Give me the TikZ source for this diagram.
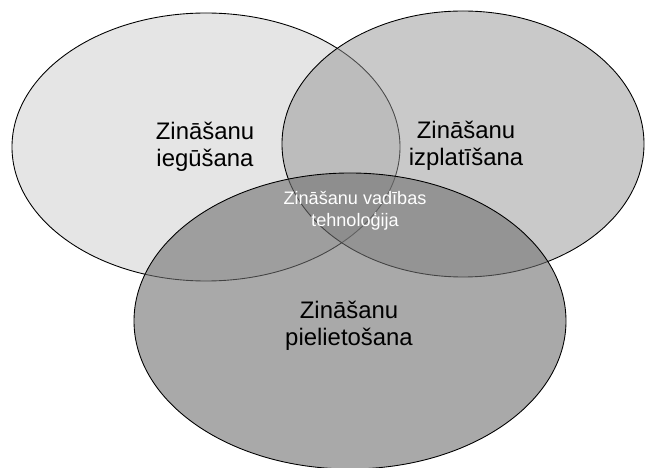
\documentclass[tikz,border=0pt]{standalone}
\usepackage{fontspec}
\setmainfont{Liberation Sans}
\usetikzlibrary{positioning,shapes.geometric}
\definecolor{setlight}{gray}{0.90}
\definecolor{setmid}{gray}{0.58}
\definecolor{setdark}{gray}{0.44}
\tikzset{
  set/.style={ellipse,draw=black,line width=0.5pt,inner sep=0pt},
  setA/.style={set,fill=setlight,minimum width=77.6mm,minimum height=53.6mm},
  setB/.style={set,fill=setmid,fill opacity=0.5,minimum width=72.4mm,minimum height=53.2mm},
  setC/.style={set,fill=setdark,fill opacity=0.6,minimum width=86.4mm,minimum height=59.2mm},
  lbl/.style={align=center,text=black,font=\fontsize{13.6}{15.4}\selectfont,inner sep=0pt},
  core/.style={align=center,text=white,font=\fontsize{10.3}{12.5}\selectfont,inner sep=0pt},
}

\begin{document}
\begin{tikzpicture}
\useasboundingbox (0,0) rectangle (12.9,-9.36);

% ------------------------------------------------ sets
\node[setA] (acq) at (4.12,-2.94) {};
\node[setB] (dis) at (9.26,-2.88) {};
\node[setC] (app) at (7.00,-6.42) {};

% ------------------------------------------------ labels
\node[lbl] (acqL) at (4.10,-2.94) {Zināšanu\\iegūšana};
\node[lbl] (disL) at (9.32,-2.92) {Zināšanu\\izplatīšana};
\node[lbl] (appL) at (6.98,-6.52) {Zināšanu\\pielietošana};
\node[core] (kmt) at (7.10,-4.22) {Zināšanu vadības\\tehnoloģija};

\end{tikzpicture}
\end{document}
